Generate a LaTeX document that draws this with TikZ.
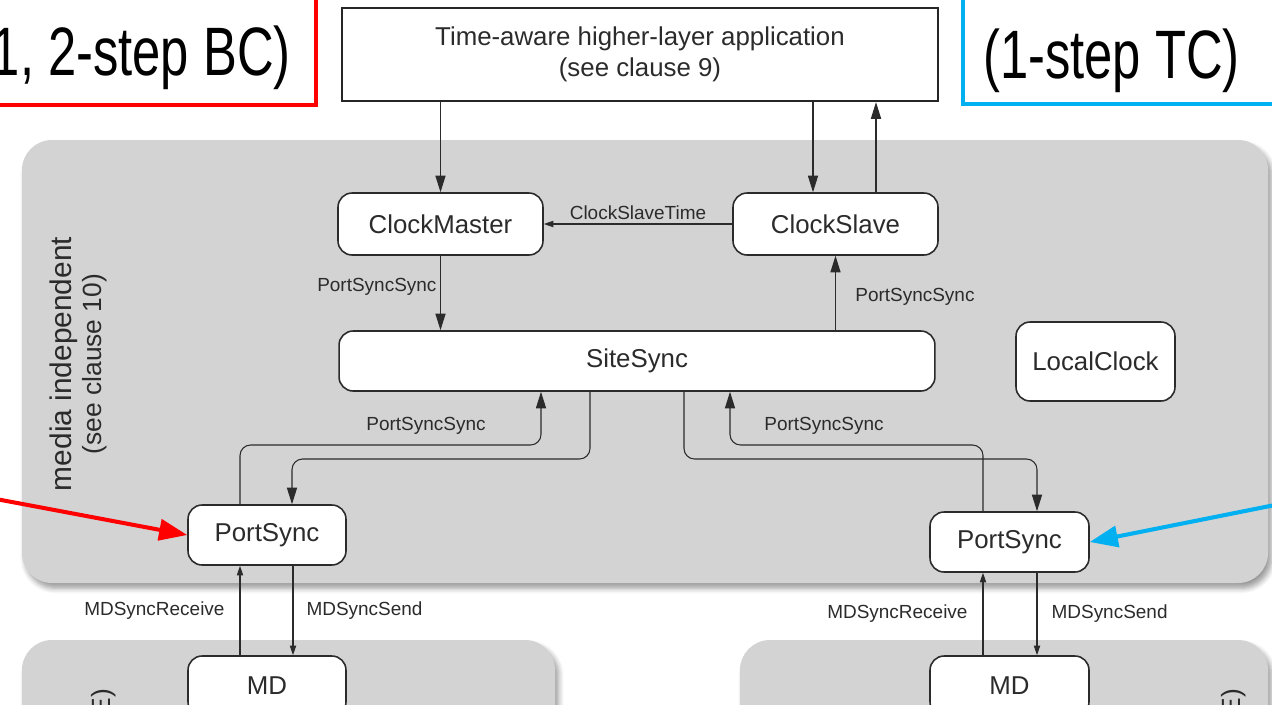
\documentclass[tikz,border=0pt]{standalone}
\usepackage{fontspec}
\setmainfont{Liberation Sans}
\usetikzlibrary{arrows.meta,shadows.blur}
\definecolor{panelgray}{HTML}{D3D3D3}
\definecolor{inkgray}{HTML}{2B2B2B}
\definecolor{bcred}{HTML}{FF0000}
\definecolor{tcblue}{HTML}{00B0F0}
\tikzset{
  blk/.style={draw=inkgray, line width=0.9pt, fill=white, rounded corners=8pt,
    text=inkgray, font=\fontsize{14.7}{17.6}\selectfont, inner sep=0pt},
  lbl/.style={text=inkgray, font=\fontsize{10.8}{12}\selectfont, inner sep=2pt},
  bigarr/.style={draw=inkgray, line width=0.6pt, -{Triangle[length=9.5pt,width=5.8pt]}},
  smallarr/.style={draw=inkgray, line width=0.6pt, -{Triangle[length=5.5pt,width=3.6pt]}},
  callout/.style={line width=2.3pt, -{Triangle[length=16pt,width=12pt]}},
  panel/.style={fill=panelgray, rounded corners=0.6cm,
    blur shadow={shadow xshift=2pt, shadow yshift=-3pt, shadow blur radius=3pt, shadow blur steps=6}},
  bigtxt/.style={inner sep=0pt, font=\fontsize{39}{40}\selectfont},
}
\begin{document}
\begin{tikzpicture}[x=0.02cm, y=-0.02cm]
    \useasboundingbox (0,0) rectangle (1272,704);
    \clip (0,0) rectangle (1272,704);
    % panels
    \fill[panel] (22,140) rectangle (1268,583);
    \fill[panel] (22,640) rectangle (555,780);
    \fill[panel] (740,640) rectangle (1268,780);
    \node (medTxt) [rotate=90, align=center, text=inkgray, font=\fontsize{17}{17}\selectfont] at (78,364)
      {media independent\\{\fontsize{15}{17}\selectfont(see clause 10)}};
    \node (ieeeL) [rotate=90, anchor=east, text=inkgray, font=\fontsize{15}{17}\selectfont] at (104,683) {E)};
    \node (ieeeR) [rotate=90, anchor=east, text=inkgray, font=\fontsize{15}{17}\selectfont] at (1234,683) {E)};
    % blocks
    \node (app) [blk, rounded corners=0pt, line width=1.3pt, draw=black!85, align=center,
      minimum width=11.92cm, minimum height=1.86cm] at (640,54.5)
      {Time-aware higher-layer application\\(see clause 9)};
    \node (master) [blk, minimum width=4.1cm, minimum height=1.24cm] at (440.5,224) {ClockMaster};
    \node (slave) [blk, minimum width=4.1cm, minimum height=1.24cm] at (835.5,224) {ClockSlave};
    \node (site) [blk, minimum width=11.92cm, minimum height=1.2cm] at (637,361) {SiteSync};
    \node (localclk) [blk, minimum width=3.18cm, minimum height=1.58cm] at (1095.5,361.5) {LocalClock};
    \node (psL) [blk, minimum width=3.16cm, minimum height=1.2cm] at (267,535) {PortSync};
    \node (psR) [blk, minimum width=3.18cm, minimum height=1.2cm] at (1009.5,542) {PortSync};
    \node (mdL) [blk, minimum width=3.16cm, minimum height=1.2cm] at (267,686) {MD};
    \node (mdR) [blk, minimum width=3.18cm, minimum height=1.2cm] at (1009.5,686) {MD};
    % connectors
    \draw[bigarr] (app.south -| master) -- (master.north);
    \draw[bigarr] (app.south -| 813,0) -- (slave.north -| 813,0);
    \draw[bigarr] (slave.north -| 876,0) -- (app.south -| 876,0);
    \draw[smallarr] (slave.west) -- (master.east) node (cstLbl) [lbl, pos=.5, above] {ClockSlaveTime};
    \draw[bigarr] (master.south) -- (site.north -| master) node (pssA) [lbl, pos=.42, left] {PortSyncSync};
    \draw[bigarr] (site.north -| slave) -- (slave.south) node (pssB) [lbl, pos=.45, right=9pt] {PortSyncSync};
    \draw[bigarr, rounded corners=6pt] (psL.north -| 240,0) |- (541,445) -- (site.south -| 541,0);
    \draw[bigarr, rounded corners=6pt] (site.south -| 590,0) |- (292,459) -- (psL.north -| 292,0);
    \node (pssC) [lbl] at (426,426) {PortSyncSync};
    \draw[bigarr, rounded corners=6pt] (psR.north -| 983,0) |- (730,445) -- (site.south -| 730,0);
    \draw[bigarr, rounded corners=6pt] (site.south -| 684,0) |- (1037,459) -- (psR.north -| 1037,0);
    \node (pssD) [lbl] at (824,426) {PortSyncSync};
    \draw[smallarr] (mdL.north -| 240,0) -- (psL.south -| 240,0) node (rcvL) [lbl, pos=.5, left=6.5pt] {MDSyncReceive};
    \draw[smallarr] (psL.south -| 293,0) -- (mdL.north -| 293,0) node (sndL) [lbl, pos=.5, right=5.4pt] {MDSyncSend};
    \draw[smallarr] (mdR.north -| 983,0) -- (psR.south -| 983,0) node (rcvR) [lbl, pos=.5, left=6.5pt] {MDSyncReceive};
    \draw[smallarr] (psR.south -| 1037,0) -- (mdR.north -| 1037,0) node (sndR) [lbl, pos=.5, right=6pt] {MDSyncSend};
    % callouts
    \draw[bcred, line width=2.8pt] (-20,-20) rectangle (316,105);
    \node (bcTxt) [bigtxt, anchor=base east] at (291,75) {\scalebox{0.74}[1]{1, 2-step BC)}};
    \coordinate (bcFrom) at (-20,496);
    \draw[callout, bcred] (bcFrom) -- (psL.west);
    \draw[tcblue, line width=2.8pt] (963,104) rectangle (1300,-20);
    \node (tcTxt) [bigtxt, anchor=base west] at (983,78) {\scalebox{0.74}[1]{(1-step TC)}};
    \coordinate (tcFrom) at (1290,502);
    \draw[callout, tcblue] (tcFrom) -- (psR.east);
\end{tikzpicture}
\end{document}
